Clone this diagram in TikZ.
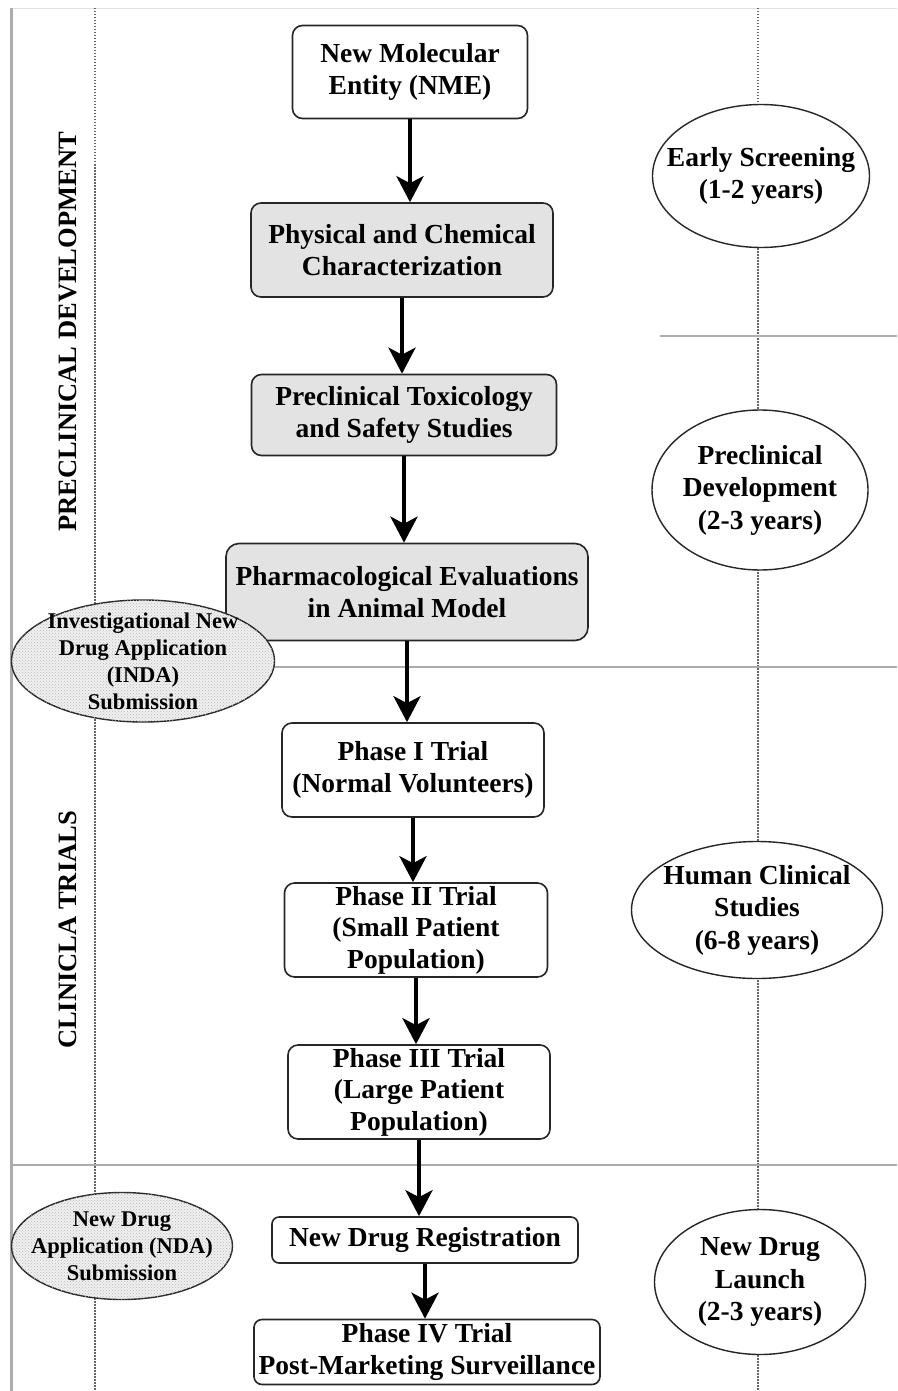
\documentclass[tikz,border=0pt]{standalone}
\usepackage{fontspec}
\setmainfont{Liberation Serif}
\usetikzlibrary{arrows.meta,shapes.geometric,patterns}
\begin{document}
\begin{tikzpicture}[x=1pt,y=-1pt,
  box/.style={draw=black!85, line width=1.6pt, rounded corners=10pt, fill=white, align=center, inner sep=0pt,
    font=\bfseries\fontsize{27.5}{31.5}\selectfont},
  graybox/.style={box, fill=gray!22},
  rell/.style={ellipse, draw=black!85, line width=1.4pt, fill=white, inner sep=0pt},
  rtxt/.style={align=center, inner sep=0pt, font=\bfseries\fontsize{27.5}{32.5}\selectfont},
  lell/.style={ellipse, draw=black!85, line width=1.4pt, fill=gray!12, inner sep=0pt,
    postaction={pattern=crosshatch dots, pattern color=gray!55}},
  ltxt/.style={align=center, inner sep=0pt, font=\bfseries\fontsize{22.5}{27}\selectfont},
  arr/.style={-{Stealth[length=26pt,width=27pt,inset=7pt]}, line width=4.5pt, black},
  sep/.style={draw=gray!65, line width=2pt},
  dotl/.style={draw=black!60, line width=1.6pt, dash pattern=on 1.5pt off 1.5pt},
  vlab/.style={rotate=90, font=\bfseries\fontsize{26.5}{30}\selectfont}
]
\useasboundingbox (0,0) rectangle (897,1391);
% frame lines
\draw[draw=gray!25, line width=0.8pt] (11,8) -- (897,8);
\draw[draw=gray!65, line width=3pt] (11,8) -- (11,1391);
\draw[dotl] (95,8) -- (95,1391);
\draw[dotl] (758,8) -- (758,1391);
\draw[sep] (660,336) -- (897,336);
\draw[sep] (11,667) -- (897,667);
\draw[sep] (11,1165) -- (897,1165);

% side labels
\node[vlab] (lpre) at (68,332) {PRECLINICAL DEVELOPMENT};
\node[vlab] (lcli) at (68,930) {CLINICLA TRIALS};

% main boxes
\node[box, minimum width=235pt, minimum height=93pt] (nme) at (410,72) {New Molecular\\Entity (NME)};
\node[graybox, minimum width=302pt, minimum height=94pt] (phys) at (402,250) {Physical and Chemical\\Characterization};
\node[graybox, minimum width=305pt, minimum height=81pt] (tox) at (404,415) {Preclinical Toxicology\\and Safety Studies};
\node[graybox, minimum width=362pt, minimum height=97pt, rounded corners=13pt] (pharm) at (407,592) {Pharmacological Evaluations\\in Animal Model};
\node[box, minimum width=262pt, minimum height=94pt] (p1) at (413,770) {Phase I Trial\\(Normal Volunteers)};
\node[box, minimum width=263pt, minimum height=94pt] (p2) at (416,930) {Phase II Trial\\(Small Patient\\Population)};
\node[box, minimum width=262pt, minimum height=94pt] (p3) at (419,1092) {Phase III Trial\\(Large Patient\\Population)};
\node[box, minimum width=306pt, minimum height=46pt, rounded corners=7pt] (ndr) at (425,1240) {New Drug Registration};
\node[box, minimum width=346pt, minimum height=65pt, rounded corners=8pt] (p4) at (427,1352) {Phase IV Trial\\Post-Marketing Surveillance};

% arrows
\draw[arr] (nme.south) -- (nme.south |- phys.north);
\draw[arr] (phys.south) -- (phys.south |- tox.north);
\draw[arr] (tox.south) -- (tox.south |- pharm.north);
\draw[arr] (pharm.south) -- (pharm.south |- p1.north);
\draw[arr] (p1.south) -- (p1.south |- p2.north);
\draw[arr] (p2.south) -- (p2.south |- p3.north);
\draw[arr] (p3.south) -- (p3.south |- ndr.north);
\draw[arr] (ndr.south) -- (ndr.south |- p4.north);

% right ellipses
\node[rell, minimum width=217pt, minimum height=143pt] (es) at (761,176) {};
\node[rtxt] (est) at (es) {Early Screening\\(1-2 years)};
\node[rell, minimum width=216pt, minimum height=160pt] (pd) at (760,490) {};
\node[rtxt] (pdt) at (pd) {Preclinical\\Development\\(2-3 years)};
\node[rell, minimum width=251pt, minimum height=137pt] (hc) at (757,910) {};
\node[rtxt] (hct) at (hc) {Human Clinical\\Studies\\(6-8 years)};
\node[rell, minimum width=211pt, minimum height=145pt] (nl) at (760,1282) {};
\node[rtxt] (nlt) at (nl) {New Drug\\Launch\\(2-3 years)};

% left ellipses
\node[lell, minimum width=263pt, minimum height=122pt] (inda) at (143,661) {};
\node[ltxt] (indat) at (inda) {Investigational New\\Drug Application\\(INDA)\\Submission};
\node[lell, minimum width=221pt, minimum height=107pt] (nda) at (122,1246) {};
\node[ltxt] (ndat) at (nda) {New Drug\\Application (NDA)\\Submission};
\end{tikzpicture}
\end{document}
